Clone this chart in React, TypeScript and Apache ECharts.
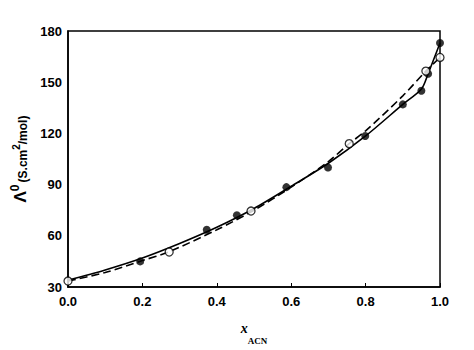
import React, { useEffect, useRef } from "react";
import * as echarts from "echarts";

const xTicks = [0, 0.2, 0.4, 0.6, 0.8, 1.0];
const yTicks = [30, 60, 90, 120, 150, 180];

// filled circles (experimental set 1)
const filledX = [0.194, 0.373, 0.454, 0.587, 0.699, 0.799, 0.9, 0.95, 0.968, 1.0];
const filledY = [45, 63.5, 72, 88.5, 100, 118.5, 137, 145, 155, 173];

// open circles (experimental set 2)
const openX = [0, 0.272, 0.492, 0.756, 0.962, 1.0];
const openY = [33.5, 50.5, 74.5, 114, 156.5, 164.5];

// solid fitted curve
const solidX = [0, 0.1, 0.2, 0.3, 0.4, 0.5, 0.6, 0.7, 0.8, 0.9, 0.95, 0.968, 1.0];
const solidY = [34, 40, 47, 55.5, 65, 76, 89, 102.5, 118.5, 137, 146, 155, 173];

// dashed fitted curve
const dashX = [0, 0.1, 0.2, 0.27, 0.4, 0.5, 0.6, 0.7, 0.756, 0.8, 0.9, 0.962, 1.0];
const dashY = [33.5, 38.5, 45.5, 50.5, 63.5, 75, 88.5, 103.5, 114, 121.5, 142, 156.5, 164.5];

const zip = (xs: number[], ys: number[]) => xs.map((x, i) => [x, ys[i]]);

export default function App() {
  const ref = useRef<HTMLDivElement>(null);
  useEffect(() => {
    const chart = echarts.init(ref.current!, undefined, { renderer: "svg" });
    const labelStyle = {
      color: "#000",
      fontFamily: "Liberation Sans, Arial, sans-serif",
      fontWeight: "bold" as const,
      fontSize: 13,
    };
    chart.setOption({
      animation: false,
      backgroundColor: "#fff",
      grid: {
        left: 68,
        right: 34,
        top: 31,
        bottom: 56,
        show: true,
        borderColor: "#000",
        borderWidth: 1.5,
      },
      xAxis: {
        type: "value",
        min: xTicks[0],
        max: xTicks[xTicks.length - 1],
        interval: 0.2,
        splitLine: { show: false },
        axisLine: { lineStyle: { color: "#000", width: 1.5 } },
        axisTick: { inside: true, length: 4, lineStyle: { color: "#000", width: 1 } },
        axisLabel: { ...labelStyle, margin: 8, formatter: (v: number) => v.toFixed(1) },
        name: "{x|x}{s|ACN}",
        nameLocation: "middle",
        nameGap: 34,
        nameTextStyle: {
          rich: {
            x: { fontFamily: "Liberation Serif, serif", fontStyle: "italic", fontWeight: "bold", fontSize: 14, color: "#000", verticalAlign: "top", padding: [0, 0, 10, 0] },
            s: { fontFamily: "Liberation Serif, serif", fontWeight: "bold", fontSize: 9, color: "#000", verticalAlign: "bottom", padding: [10, 0, 0, 0] },
          },
        },
      },
      yAxis: {
        type: "value",
        min: yTicks[0],
        max: yTicks[yTicks.length - 1],
        interval: 30,
        splitLine: { show: false },
        axisLine: { lineStyle: { color: "#000", width: 1.5 } },
        axisTick: { show: false },
        axisLabel: { ...labelStyle, margin: 6 },
        name: "{L|Λ}{sup|0}{u|(S.cm}{sup2|2}{u|/mol)}",
        nameLocation: "middle",
        nameGap: 33,
        nameRotate: 90,
        nameTextStyle: {
          rich: {
            L: { fontFamily: "Liberation Sans, Arial, sans-serif", fontWeight: "bold", fontSize: 17, color: "#000" },
            sup: { fontFamily: "Liberation Sans, Arial, sans-serif", fontWeight: "bold", fontSize: 12, color: "#000", verticalAlign: "top", padding: [0, 2, 10, 0] },
            u: { fontFamily: "Liberation Sans, Arial, sans-serif", fontWeight: "bold", fontSize: 12, color: "#000", padding: [6, 0, 0, 0] },
            sup2: { fontFamily: "Liberation Sans, Arial, sans-serif", fontWeight: "bold", fontSize: 10, color: "#000", padding: [0, 0, 8, 0] },
          },
        },
      },
      series: [
        {
          type: "line",
          data: zip(solidX, solidY),
          smooth: 0.3,
          showSymbol: false,
          lineStyle: { color: "#000", width: 1.6, type: "solid" },
          z: 2,
        },
        {
          type: "line",
          data: zip(dashX, dashY),
          smooth: 0.3,
          showSymbol: false,
          lineStyle: { color: "#000", width: 1.6, type: [8, 4] },
          z: 2,
        },
        {
          type: "scatter",
          data: zip(filledX, filledY),
          symbol: "circle",
          symbolSize: 8,
          itemStyle: { color: "#000" },
          z: 3,
        },
        {
          type: "scatter",
          data: zip(openX, openY),
          symbol: "circle",
          symbolSize: 8,
          itemStyle: { color: "#fff", borderColor: "#000", borderWidth: 1.3 },
          z: 4,
        },
      ],
    });
    return () => chart.dispose();
  }, []);
  return <div ref={ref} style={{ width: 474, height: 350, position: "absolute", left: 0, top: 0 }} />;
}
